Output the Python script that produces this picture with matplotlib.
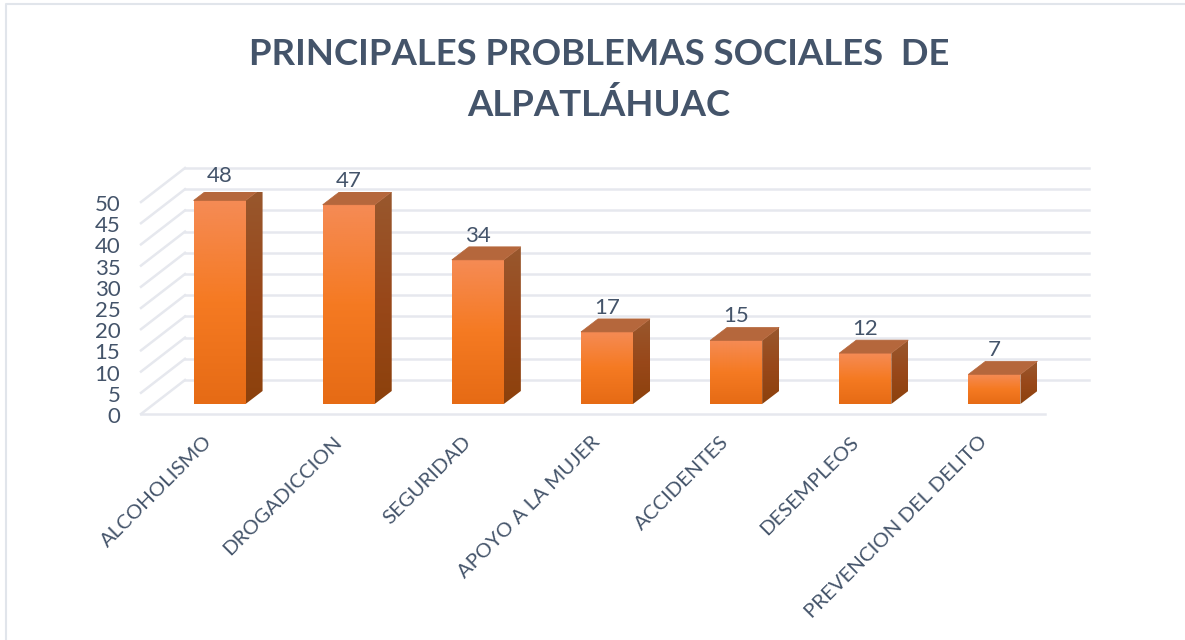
import numpy as np
import matplotlib
matplotlib.use('Agg')
import matplotlib.pyplot as plt
from matplotlib.colors import LinearSegmentedColormap
from matplotlib.patches import Polygon
from matplotlib.transforms import ScaledTranslation

categorias = ['ALCOHOLISMO', 'DROGADICCION', 'SEGURIDAD', 'APOYO A LA MUJER',
              'ACCIDENTES', 'DESEMPLEOS', 'PREVENCION DEL DELITO']
valores = [48, 47, 34, 17, 15, 12, 7]
marcas = [0, 5, 10, 15, 20, 25, 30, 35, 40, 45, 50]
titulo = 'PRINCIPALES PROBLEMAS SOCIALES  DE\nALPATLÁHUAC'

W, H = 1185, 640
AZUL = '#44546A'
GRIS = '#E6E8EE'

plt.rcParams['font.family'] = ['Lato', 'DejaVu Sans']

fig = plt.figure(figsize=(W / 100, H / 100), dpi=100)
x0, x1, y0, y50 = 155, 1059, 404, 192
ax = fig.add_axes([x0 / W, 1 - y0 / H, (x1 - x0) / W, (y0 - y50) / H])

# pixeles a unidades de datos
px = 7 / (x1 - x0)
py = 50 / (y0 - y50)
ancho = 52 * px / 2

frente = LinearSegmentedColormap.from_list('frente', ['#E66B15', '#F57A22', '#F58B55'])
lado = LinearSegmentedColormap.from_list('lado', ['#8C410C', '#99481A', '#98582E'])
grad = np.linspace(0, 1, 128).reshape(-1, 1)

# marco de la imagen
fig.add_artist(plt.Line2D([6 / W, 6 / W, 1], [0, 1 - 4 / H, 1 - 4 / H], color='#E1E5EB', lw=1.5))

# piso y paredes
xi, xf = -0.5, 6.5
for v in marcas:
    ax.plot([xi - 14 * px, xi + 30 * px], [v - 10 * py, v + 24 * py], color=GRIS, lw=1.8, clip_on=False, zorder=1)
    ax.plot([xi + 30 * px, xf + 30 * px], [v + 24 * py, v + 24 * py], color=GRIS, lw=1.8, clip_on=False, zorder=1)
ax.plot([xi - 14 * px, xf - 14 * px], [-10 * py, -10 * py], color=GRIS, lw=1.8, clip_on=False, zorder=1)

# barras con efecto 3d
dx, dy = 17 * px, 13 * py
for i, v in enumerate(valores):
    a, b = i - ancho, i + ancho
    ax.imshow(grad, extent=[a, b, 0, v], origin='lower', cmap=frente, aspect='auto', zorder=3)
    im2 = ax.imshow(grad, extent=[b, b + dx, 0, v + dy], origin='lower', cmap=lado, aspect='auto', zorder=3)
    p = Polygon([(b, 0), (b + dx, dy), (b + dx, v + dy), (b, v)], transform=ax.transData, fc='none', ec='none')
    ax.add_patch(p)
    im2.set_clip_path(p)
    ax.add_patch(Polygon([(a, v), (b, v), (b + dx, v + dy), (a + dx, v + dy)], fc='#B5673C', ec='#B5673C', lw=0.5, zorder=3))
    ax.text(i, v + 24 * py, str(v), ha='center', va='center', color=AZUL, fontsize=16, zorder=4)

ax.set_xlim(xi, xf)
ax.set_ylim(0, 50)
for s in ax.spines.values():
    s.set_visible(False)
ax.patch.set_alpha(0)

ax.set_xticks(range(len(categorias)))
ax.set_xticklabels(categorias, rotation=45, ha='right', va='top', rotation_mode='anchor', color=AZUL, fontsize=14.7)
ax.tick_params(axis='x', length=0, pad=21)
corr_x = ScaledTranslation(-16 / 100, 0, fig.dpi_scale_trans)
for t in ax.get_xticklabels():
    t.set_transform(t.get_transform() + corr_x)

ax.set_yticks(marcas)
ax.set_yticklabels(marcas, color=AZUL, fontsize=16)
ax.tick_params(axis='y', length=0, pad=25)
corr_y = ScaledTranslation(0, -11 / 100, fig.dpi_scale_trans)
for t in ax.get_yticklabels():
    t.set_transform(t.get_transform() + corr_y)

fig.text(599 / W, 1 - 80 / H, titulo, ha='center', va='center', color=AZUL, fontsize=26.3, fontweight='bold', linespacing=1.62)

fig.savefig('out.png', dpi=100)
